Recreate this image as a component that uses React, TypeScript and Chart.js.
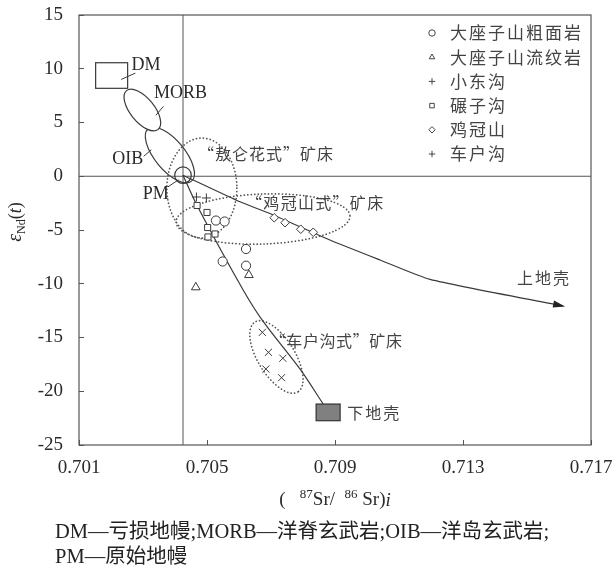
import React, { useEffect, useRef } from 'react';
import { Chart, registerables } from 'chart.js';
import { drawPoint } from 'chart.js/helpers';

Chart.register(...registerables);

// ---- axes ----
const xTicks = [0.701, 0.705, 0.709, 0.713, 0.717];
const yTicks = [-25, -20, -15, -10, -5, 0, 5, 10, 15];

// ---- sample series ----
const seriesLabels = ['大座子山粗面岩', '大座子山流纹岩', '小东沟', '碾子沟', '鸡冠山', '车户沟'];
const trachyteX = [0.70528, 0.70555, 0.70622, 0.70549, 0.70622];
const trachyteY = [-4.12, -4.21, -6.77, -7.93, -8.32];
const rhyoliteX = [0.70631, 0.70465];
const rhyoliteY = [-9.19, -10.33];
const xiaodonggouX = [0.70467, 0.70498];
const xiaodonggouY = [-1.93, -2.02];
const nianzigouX = [0.70469, 0.705, 0.70502, 0.70503, 0.70525];
const nianzigouY = [-2.72, -3.37, -4.77, -5.65, -5.37];
const jiguanshanX = [0.7071, 0.70744, 0.70793, 0.70832];
const jiguanshanY = [-3.86, -4.32, -4.93, -5.21];
const chehugouX = [0.70673, 0.70692, 0.70737, 0.70684, 0.70733];
const chehugouY = [-14.52, -16.38, -16.93, -17.93, -18.74];

// ---- reference components ----
const pmPoint = { x: 0.70425, y: 0.1 };
const refLineX = 0.70425;
const refLineY = 0;
const lowerCrustCurveX = [0.70425, 0.70468, 0.70613, 0.70676, 0.70791, 0.70863];
const lowerCrustCurveY = [0.1, -2.67, -10.58, -13.53, -17.95, -21.19];
const upperCrustCurveX = [0.70425, 0.70603, 0.70707, 0.70884, 0.71041, 0.71197, 0.71613];
const upperCrustCurveY = [0.1, -2.37, -3.6, -5.93, -7.79, -9.59, -12.07];
const dmBoxX = [0.70152, 0.70252];
const dmBoxY = [8.18, 10.56];
const lowerCrustBoxX = [0.70841, 0.70916];
const lowerCrustBoxY = [-22.74, -21.19];

// field outlines: centre in data units, radii (px) and rotation (deg)
const fieldEllipses = [
  { name: 'OIB', cx: 0.70384, cy: 1.98, rx: 34, ry: 15, rot: 50.4, dotted: false, fill: false },
  { name: 'MORB', cx: 0.70298, cy: 6.16, rx: 25, ry: 12, rot: 50.8, dotted: false, fill: true },
  { name: 'aolunhua', cx: 0.70484, cy: -1.1, rx: 35, ry: 50, rot: 0, dotted: true, fill: false },
  { name: 'jiguanshan', cx: 0.70675, cy: -3.98, rx: 87, ry: 25, rot: -2, dotted: true, fill: false },
  { name: 'chehugou', cx: 0.70717, cy: -16.81, rx: 41, ry: 18.5, rot: 58.4, dotted: true, fill: false },
];

const textLabels = [
  { text: 'DM', x: 0.70309, y: 10.35, cjk: false, align: 'center', spacing: 0 },
  { text: 'MORB', x: 0.70417, y: 7.7, cjk: false, align: 'center', spacing: 0 },
  { text: 'OIB', x: 0.70252, y: 1.6, cjk: false, align: 'center', spacing: 0 },
  { text: 'PM', x: 0.7034, y: -1.65, cjk: false, align: 'center', spacing: 0 },
  { text: '“敖仑花式”矿床', x: 0.70472, y: 2.07, cjk: true, align: 'left', spacing: 1 },
  { text: '“鸡冠山式”矿床', x: 0.70622, y: -2.44, cjk: true, align: 'left', spacing: 1.3 },
  { text: '“车户沟式”矿床', x: 0.70696, y: -15.3, cjk: true, align: 'left', spacing: 0.6 },
  { text: '上地壳', x: 0.71469, y: -9.5, cjk: true, align: 'left', spacing: 2 },
  { text: '下地壳', x: 0.70938, y: -22.0, cjk: true, align: 'left', spacing: 2 },
];

const leaderLines = [
  [[0.70233, 9.02], [0.70275, 9.58]],
  [[0.70341, 5.7], [0.70363, 6.47]],
  [[0.70303, 1.88], [0.70325, 2.44]],
  [[0.70379, -0.97], [0.7041, -0.35]],
];

const INK = '#3a3a3a';
const LATIN = '"Liberation Serif", "Times New Roman", serif';
const CJK = '"Noto Sans CJK SC", "Liberation Serif", sans-serif';

const toPts = (xs: number[], ys: number[]) => xs.map((x, i) => ({ x, y: ys[i] }));

function drawRich(ctx: CanvasRenderingContext2D, pieces: { t: string; f: string; dy?: number }[], cx: number, base: number) {
  let w = 0;
  for (const p of pieces) {
    ctx.font = p.f;
    w += ctx.measureText(p.t).width;
  }
  let x = cx - w / 2;
  ctx.textAlign = 'left';
  ctx.textBaseline = 'alphabetic';
  for (const p of pieces) {
    ctx.font = p.f;
    ctx.fillText(p.t, x, base + (p.dy || 0));
    x += ctx.measureText(p.t).width;
  }
}

const decorPlugin = {
  id: 'decor',
  beforeDatasetsDraw(chart: any) {
    const { ctx, scales } = chart;
    const sx = (v: number) => scales.x.getPixelForValue(v);
    const sy = (v: number) => scales.y.getPixelForValue(v);
    ctx.save();
    // DM box
    ctx.strokeStyle = INK;
    ctx.lineWidth = 1.2;
    ctx.strokeRect(sx(dmBoxX[0]), sy(dmBoxY[1]), sx(dmBoxX[1]) - sx(dmBoxX[0]), sy(dmBoxY[0]) - sy(dmBoxY[1]));
    for (const e of fieldEllipses) {
      ctx.beginPath();
      ctx.ellipse(sx(e.cx), sy(e.cy), e.rx, e.ry, (e.rot * Math.PI) / 180, 0, Math.PI * 2);
      if (e.dotted) {
        ctx.setLineDash([0.1, 3.4]);
        ctx.lineCap = 'round';
        ctx.lineWidth = 1.7;
        ctx.strokeStyle = '#555';
      } else {
        ctx.setLineDash([]);
        ctx.lineWidth = 1.2;
        ctx.strokeStyle = INK;
      }
      if (e.fill) {
        ctx.fillStyle = '#fff';
        ctx.fill();
      }
      ctx.stroke();
    }
    ctx.setLineDash([]);
    // leader lines
    ctx.lineWidth = 1;
    ctx.strokeStyle = INK;
    for (const l of leaderLines) {
      ctx.beginPath();
      ctx.moveTo(sx(l[0][0]), sy(l[0][1]));
      ctx.lineTo(sx(l[1][0]), sy(l[1][1]));
      ctx.stroke();
    }
    ctx.restore();
  },
  afterDatasetsDraw(chart: any) {
    const { ctx, scales } = chart;
    const sx = (v: number) => scales.x.getPixelForValue(v);
    const sy = (v: number) => scales.y.getPixelForValue(v);
    ctx.save();
    // lower crust box
    ctx.fillStyle = '#808080';
    ctx.strokeStyle = '#333';
    ctx.lineWidth = 1.2;
    const bx = sx(lowerCrustBoxX[0]);
    const by = sy(lowerCrustBoxY[1]);
    const bw = sx(lowerCrustBoxX[1]) - bx;
    const bh = sy(lowerCrustBoxY[0]) - by;
    ctx.fillRect(bx, by, bw, bh);
    ctx.strokeRect(bx, by, bw, bh);
    // arrow head on upper crust curve
    const idx = chart.data.datasets.findIndex((d: any) => d.label === 'upperCrust');
    const pts = chart.getDatasetMeta(idx).data;
    const a = pts[pts.length - 1];
    const b = pts[pts.length - 2];
    const ang = Math.atan2(a.y - b.y, a.x - b.x);
    ctx.save();
    ctx.translate(a.x, a.y);
    ctx.rotate(ang);
    ctx.beginPath();
    ctx.moveTo(2, 0);
    ctx.lineTo(-10, -3.6);
    ctx.lineTo(-10, 3.6);
    ctx.closePath();
    ctx.fillStyle = '#222';
    ctx.fill();
    ctx.restore();
    // text labels
    ctx.textBaseline = 'middle';
    for (const t of textLabels) {
      ctx.fillStyle = t.cjk ? '#444' : '#2a2a2a';
      ctx.font = t.cjk ? '16px ' + CJK : '18px ' + LATIN;
      (ctx as any).letterSpacing = t.spacing + 'px';
      ctx.textAlign = t.align;
      ctx.fillText(t.text, sx(t.x), sy(t.y));
    }
    (ctx as any).letterSpacing = '0px';
    ctx.restore();
  },
  afterDraw(chart: any) {
    const { ctx, chartArea } = chart;
    ctx.save();
    // frame
    ctx.strokeStyle = '#555';
    ctx.lineWidth = 1.2;
    ctx.strokeRect(chartArea.left, chartArea.top, chartArea.right - chartArea.left, chartArea.bottom - chartArea.top);
    // legend
    const items = chart.data.datasets.filter((d: any) => d.inLegend);
    items.forEach((d: any, i: number) => {
      const y = chartArea.top + 18 + i * 24.2;
      const x = chartArea.right - 159;
      ctx.strokeStyle = '#444';
      ctx.fillStyle = '#fff';
      ctx.lineWidth = 1;
      drawPoint(ctx, { pointStyle: d.legendStyle || d.pointStyle, radius: 3.2, rotation: 0, borderWidth: 1 }, x, y);
      ctx.fillStyle = '#444';
      ctx.font = '17px ' + CJK;
      (ctx as any).letterSpacing = '2px';
      ctx.textAlign = 'left';
      ctx.textBaseline = 'middle';
      ctx.fillText(d.label, x + 18, y);
    });
    (ctx as any).letterSpacing = '0px';
    // axis titles
    ctx.fillStyle = '#2a2a2a';
    drawRich(
      ctx,
      [
        { t: '(', f: '19px ' + LATIN },
        { t: '   ', f: '19px ' + LATIN },
        { t: '87', f: '13px ' + LATIN, dy: -7 },
        { t: 'Sr/', f: '19px ' + LATIN },
        { t: '  ', f: '19px ' + LATIN },
        { t: '86', f: '13px ' + LATIN, dy: -7 },
        { t: ' Sr)', f: '19px ' + LATIN },
        { t: 'i', f: 'italic 19px ' + LATIN, dy: 1 },
      ],
      (chartArea.left + chartArea.right) / 2,
      505
    );
    ctx.save();
    ctx.translate(15, 222);
    ctx.rotate(-Math.PI / 2);
    drawRich(
      ctx,
      [
        { t: 'ε', f: 'italic 20px ' + LATIN },
        { t: 'Nd', f: '12px ' + LATIN, dy: 4 },
        { t: '(', f: '18px ' + LATIN },
        { t: 't', f: 'italic 18px ' + LATIN },
        { t: ')', f: '18px ' + LATIN },
      ],
      0,
      6
    );
    ctx.restore();
    ctx.restore();
  },
};

export default function App() {
  const ref = useRef<HTMLCanvasElement>(null);
  useEffect(() => {
    const canvas = ref.current!;
    const pointBase = { borderColor: INK, backgroundColor: '#fff', borderWidth: 1, showLine: false, inLegend: true };
    const lineBase = { showLine: true, pointRadius: 0, pointHoverRadius: 0, borderColor: INK, borderWidth: 1.2, fill: false };
    const chart = new Chart(canvas, {
      type: 'scatter',
      data: {
        datasets: [
          { ...pointBase, label: seriesLabels[0], data: toPts(trachyteX, trachyteY), pointStyle: 'circle', pointRadius: 4.6 },
          { ...pointBase, label: seriesLabels[1], data: toPts(rhyoliteX, rhyoliteY), pointStyle: 'triangle', pointRadius: 5 },
          { ...pointBase, label: seriesLabels[2], data: toPts(xiaodonggouX, xiaodonggouY), pointStyle: 'cross', pointRadius: 4.5 },
          { ...pointBase, label: seriesLabels[3], data: toPts(nianzigouX, nianzigouY), pointStyle: 'rect', pointRadius: 4.3 },
          { ...pointBase, label: seriesLabels[4], data: toPts(jiguanshanX, jiguanshanY), pointStyle: 'rectRot', pointRadius: 4.3 },
          { ...pointBase, label: seriesLabels[5], data: toPts(chehugouX, chehugouY), pointStyle: 'crossRot', pointRadius: 5, legendStyle: 'cross' },
          { label: 'PM', data: [pmPoint], showLine: false, pointStyle: 'circle', pointRadius: 8.3, borderColor: INK, borderWidth: 1.2, backgroundColor: 'rgba(0,0,0,0)' },
          { ...lineBase, label: 'lowerCrust', data: toPts(lowerCrustCurveX, lowerCrustCurveY), tension: 0.3 },
          { ...lineBase, label: 'upperCrust', data: toPts(upperCrustCurveX, upperCrustCurveY), tension: 0.2 },
          { ...lineBase, label: 'vline', borderColor: '#555', borderWidth: 1, data: [{ x: refLineX, y: yTicks[0] }, { x: refLineX, y: yTicks[yTicks.length - 1] }] },
          { ...lineBase, label: 'hline', borderColor: '#555', borderWidth: 1, data: [{ x: xTicks[0], y: refLineY }, { x: xTicks[xTicks.length - 1], y: refLineY }] },
        ] as any,
      },
      options: {
        animation: false,
        responsive: false,
        events: [],
        layout: { padding: { left: 0, right: 25, top: 15, bottom: 87 } },
        plugins: { legend: { display: false }, tooltip: { enabled: false } },
        scales: {
          x: {
            type: 'linear',
            min: xTicks[0],
            max: xTicks[xTicks.length - 1],
            afterBuildTicks: (s: any) => { s.ticks = xTicks.map((v) => ({ value: v })); },
            afterFit: (s: any) => { s.height = 40; s.paddingLeft = 0; s.paddingRight = 0; s.paddingTop = 0; s.paddingBottom = 0; },
            border: { display: false },
            grid: { display: true, drawOnChartArea: false, drawTicks: true, tickLength: -5, color: '#555', lineWidth: 1 },
            ticks: { padding: 17, color: '#2a2a2a', font: { family: LATIN, size: 19 }, maxRotation: 0, autoSkip: false, callback: (v: any) => Number(v).toFixed(3) },
          },
          y: {
            type: 'linear',
            min: yTicks[0],
            max: yTicks[yTicks.length - 1],
            afterBuildTicks: (s: any) => { s.ticks = yTicks.map((v) => ({ value: v })); },
            afterFit: (s: any) => { s.width = 79; s.paddingLeft = 0; s.paddingRight = 0; s.paddingTop = 0; s.paddingBottom = 0; },
            border: { display: false },
            grid: { display: true, drawOnChartArea: false, drawTicks: true, tickLength: -5, color: '#555', lineWidth: 1 },
            ticks: { padding: 21, color: '#2a2a2a', font: { family: LATIN, size: 19 }, autoSkip: false, callback: (v: any) => String(v) },
          },
        },
      } as any,
      plugins: [decorPlugin],
    });
    return () => chart.destroy();
  }, []);
  return (
    <div style={{ position: 'absolute', left: 0, top: 0, width: 616, height: 572, background: '#fff' }}>
      <canvas ref={ref} width={616} height={572} style={{ display: 'block', width: 616, height: 572 }} />
      <div
        style={{
          position: 'absolute',
          left: 55,
          top: 519,
          fontFamily: LATIN + ', "Noto Sans CJK SC"',
          fontSize: 20.5,
          lineHeight: '25px',
          color: '#222',
          whiteSpace: 'nowrap',
        }}
      >
        <div>DM—亏损地幔;MORB—洋脊玄武岩;OIB—洋岛玄武岩;</div>
        <div>PM—原始地幔</div>
      </div>
    </div>
  );
}
